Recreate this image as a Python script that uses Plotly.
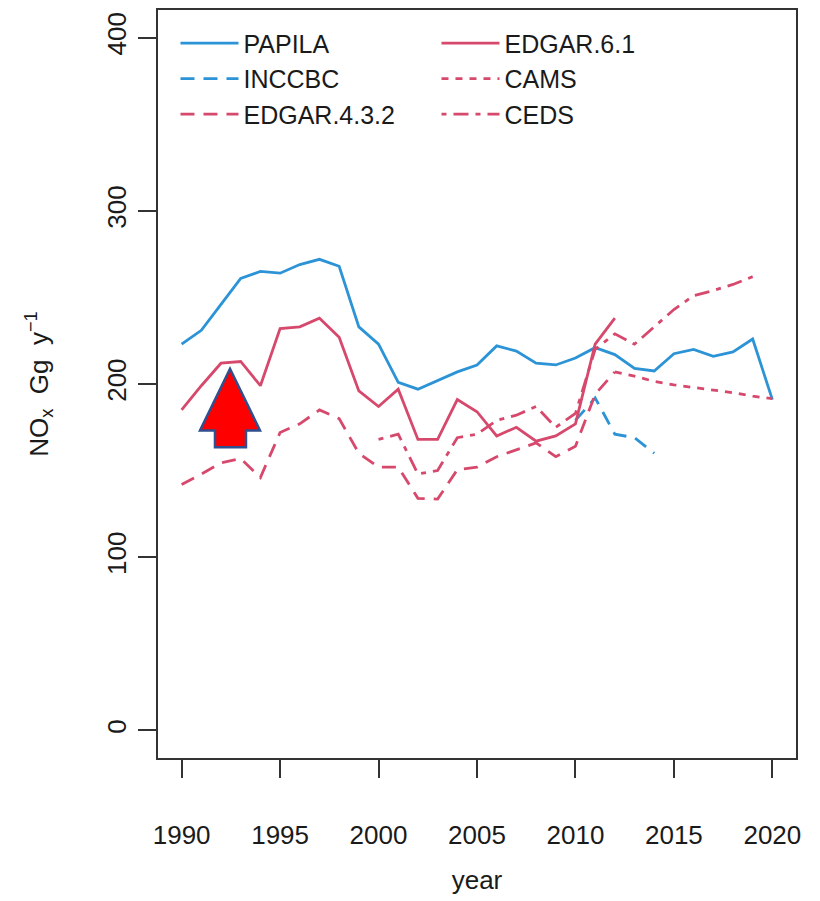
import plotly.graph_objects as go

# ---------------- data ----------------
papila_years = list(range(1990, 2021))
papila = [223, 231, 246, 261, 265, 264, 269, 272, 268, 233, 223, 201, 197, 202, 207,
          211, 222, 219, 212, 211, 215, 221, 217, 209, 207.5, 217.5, 220, 216, 218.5,
          226, 191]

inccbc_years = list(range(2010, 2015))
inccbc = [179, 192, 171, 169, 160]

edgar432_years = list(range(1990, 2013))
edgar432 = [142, 148, 154.5, 157, 146, 172, 177, 185, 180, 160, 152, 152, 134, 133.5,
            150.5, 152, 158, 162, 166, 158, 164, 194, 207]

edgar61_years = list(range(1990, 2013))
edgar61 = [185, 199, 212, 213, 199, 232, 233, 238, 227, 196, 187, 197, 168, 168, 191,
           184, 170, 175, 167, 170, 177, 223, 238]

cams_years = list(range(2012, 2021))
cams = [207, 204.5, 201.5, 199.5, 198, 196.5, 195, 193, 191.5]

ceds_years = list(range(2000, 2020))
ceds = [168, 171, 148, 150, 169, 171, 179, 182, 187, 175, 183, 220, 229, 223, 233,
        243, 251, 254, 257.5, 262]

x_ticks = [1990, 1995, 2000, 2005, 2010, 2015, 2020]
y_ticks = [0, 100, 200, 300, 400]

# ---------------- styling ----------------
BLUE = "#2B93D6"
RED = "#D6496C"
FONT = "Liberation Sans, Arial, sans-serif"
FS = 26
LFS = 25
LW = 2.8
TXT = "#1a1a1a"

series = [
    # name, x, y, color, dash, legend rank
    ("PAPILA", papila_years, papila, BLUE, "solid", 1),
    ("INCCBC", inccbc_years, inccbc, BLUE, "14px,9px", 3),
    ("EDGAR.4.3.2", edgar432_years, edgar432, RED, "14px,9px", 5),
    ("EDGAR.6.1", edgar61_years, edgar61, RED, "solid", 2),
    ("CAMS", cams_years, cams, RED, "7px,7px", 4),
    ("CEDS", ceds_years, ceds, RED, "5px,7px,15px,7px", 6),
]

fig = go.Figure()
for name, xs, ys, col, dash, rank in series:
    fig.add_trace(go.Scatter(
        x=xs, y=ys, mode="lines", name=name, legendrank=rank,
        line=dict(color=col, width=LW, dash=dash),
    ))

# red block arrow annotation (paper coordinates)
arrow = [(0.1129, 0.5203), (0.0658, 0.4379), (0.0893, 0.4379), (0.0893, 0.4156),
         (0.1379, 0.4156), (0.1379, 0.4379), (0.1599, 0.4379)]
path = "M " + " L ".join(f"{x},{y}" for x, y in arrow) + " Z"
fig.add_shape(type="path", xref="paper", yref="paper", path=path,
              fillcolor="#FF0000", line=dict(color="#2F4F8F", width=2.5), layer="above")

axis_common = dict(
    showgrid=False, zeroline=False, showline=True, mirror=True, automargin=False,
    linecolor="#333333", linewidth=1.5,
    ticks="outside", ticklen=18, tickwidth=1.5, tickcolor="#333333",
    tickfont=dict(family=FONT, size=FS, color=TXT),
)

# page body has an 8px margin, so the figure is drawn 8px smaller and shifted
fig.update_layout(
    width=812, height=893,
    margin=dict(l=150, r=24, t=1.5, b=143, autoexpand=False),
    paper_bgcolor="white", plot_bgcolor="white",
    font=dict(family=FONT, size=FS, color=TXT),
    xaxis=dict(range=[1988.8, 2021.2], tickvals=x_ticks, ticklabelstandoff=35,
               title=dict(text="year", standoff=22,
                          font=dict(family=FONT, size=FS, color=TXT)),
               **axis_common),
    yaxis=dict(range=[-16, 416], tickvals=y_ticks, tickangle=-90, ticklabelstandoff=2,
               title=dict(text="NO<sub>x</sub>  Gg  y<sup>\u22121</sup>", standoff=46,
                          font=dict(family=FONT, size=FS, color=TXT)),
               **axis_common),
    legend=dict(
        orientation="h", xref="paper", yref="paper",
        x=0.0274, y=0.986, xanchor="left", yanchor="top",
        entrywidth=188, entrywidthmode="pixels", itemwidth=58,
        bgcolor="rgba(0,0,0,0)", borderwidth=0,
        font=dict(family=FONT, size=LFS, color=TXT),
        traceorder="normal",
    ),
    showlegend=True,
)

fig.write_html("out.html")
